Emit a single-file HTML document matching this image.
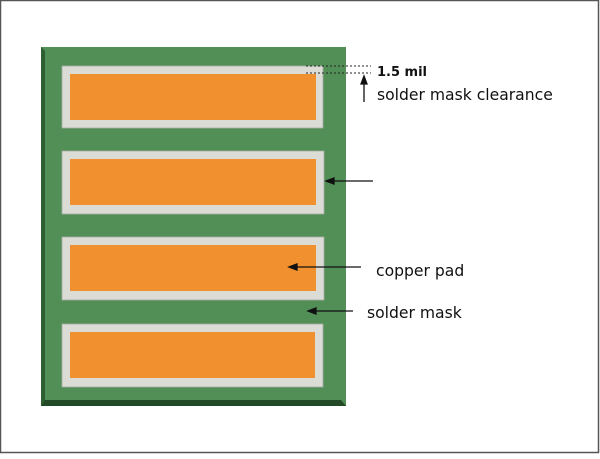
<!DOCTYPE html>
<html><head><style>
body{margin:0;width:600px;height:454px;background:#fff;overflow:hidden;font-family:"Liberation Sans",sans-serif}
</style></head><body>
<svg width="600" height="454" xmlns="http://www.w3.org/2000/svg">
<rect x="0.5" y="0.5" width="598" height="452" fill="#fff" stroke="#555" stroke-width="1.5"/>
<rect x="41" y="47" width="305" height="359" fill="#518f57"/>
<polygon points="41,47 45,51 45,400 41,406" fill="#2e5f32"/>
<polygon points="41,406 45,400 341,400 346,406" fill="#234a27"/>
<g fill="#dcdcd6" stroke="#a8aaa4" stroke-width="0.8">
<rect x="62" y="66" width="261" height="62"/>
<rect x="62" y="151" width="262" height="63"/>
<rect x="62" y="237" width="262" height="63"/>
<rect x="62" y="324" width="261" height="63"/>
</g>
<g fill="#f0902e">
<rect x="70" y="74" width="246" height="46"/>
<rect x="70" y="159" width="246" height="46"/>
<rect x="70" y="245" width="246" height="46"/>
<rect x="70" y="332" width="245" height="46"/>
</g>
<g stroke="#222" stroke-width="1" stroke-dasharray="2,2">
<line x1="306" y1="66" x2="371" y2="66"/>
<line x1="306" y1="73" x2="371" y2="73"/>
</g>
<g stroke="#111" stroke-width="1.3" fill="#111">
<line x1="364" y1="102" x2="364" y2="82"/>
<polygon points="364,76 361,84 367,84"/>
<line x1="373" y1="181" x2="333" y2="181"/>
<polygon points="326,181 334,178 334,184"/>
<line x1="361" y1="267" x2="296" y2="267"/>
<polygon points="289,267 297,264 297,270"/>
<line x1="353" y1="311" x2="315" y2="311"/>
<polygon points="308,311 316,308 316,314"/>
</g>
<g fill="#111" font-family="DejaVu Sans, sans-serif">
<text x="377" y="76" font-size="13" font-weight="bold">1.5 mil</text>
<text x="377" y="100" font-size="15.6">solder mask clearance</text>
<text x="376" y="276" font-size="15.6">copper pad</text>
<text x="367" y="318" font-size="15.6">solder mask</text>
</g>
</svg>
</body></html>
